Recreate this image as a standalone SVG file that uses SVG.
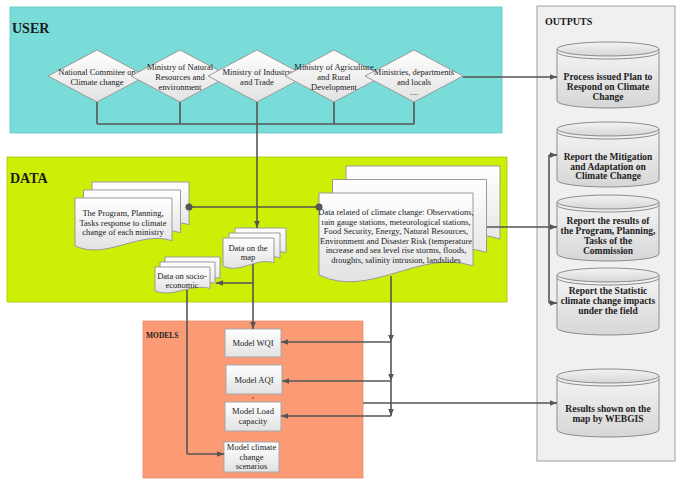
<svg xmlns="http://www.w3.org/2000/svg" width="677" height="481" viewBox="0 0 677 481">
<defs>
<linearGradient id="gw" x1="0" y1="0" x2="0" y2="1"><stop offset="0" stop-color="#ffffff"/><stop offset="1" stop-color="#e2e2e2"/></linearGradient>
<linearGradient id="gc" x1="0" y1="0" x2="0" y2="1"><stop offset="0" stop-color="#f4f4f4"/><stop offset="1" stop-color="#d6d6d6"/></linearGradient>
<marker id="a" viewBox="0 0 10 10" refX="10" refY="5" markerWidth="7" markerHeight="7" orient="auto" markerUnits="userSpaceOnUse"><path d="M0,1 L10,5 L0,9 z" fill="#555"/></marker>
</defs>
<style>
text{font-family:"Liberation Serif","Times New Roman",serif;fill:#222;text-anchor:middle}
.t{font-size:8.5px}
.b{font-size:9.5px;font-weight:bold}
.lbl{font-weight:bold;text-anchor:start;fill:#1b1b1b}
.dia{fill:url(#gw);stroke:#9a9a9a;stroke-width:1}
.doc{fill:url(#gw);stroke:#9a9a9a;stroke-width:1}
.mod{fill:url(#gw);stroke:#a8a8a8;stroke-width:1}
.cyl{fill:url(#gc);stroke:#8c8c8c;stroke-width:1}
.cl{fill:none;stroke:#8c8c8c;stroke-width:1}
.c{fill:none;stroke:#555;stroke-width:1.6}
.ar{marker-end:url(#a)}
</style>

<g id="containers">
<rect x="10" y="7" width="492" height="126" fill="#79dcd8" stroke="#62c4c0" stroke-width="0.8"/>
<rect x="7" y="157" width="500" height="145" fill="#cdef05" stroke="#a9c400" stroke-width="0.8"/>
<rect x="537" y="6" width="138" height="455" fill="#f0f0f0" stroke="#a0a0a0" stroke-width="1"/>
<rect x="143" y="321" width="220" height="157" fill="#fa9b76" stroke="#e88a66" stroke-width="0.8"/>
<text class="lbl" x="12" y="33" font-size="14">USER</text>
<text class="lbl" x="10" y="183" font-size="14">DATA</text>
<text class="lbl" x="545" y="25" font-size="10">OUTPUTS</text>
<text class="lbl" x="146" y="338" font-size="7.5" fill="#3a1a10">MODELS</text>
</g>

<g id="d1"><polygon class="dia" points="48,76 97,50 146,76 97,102"/>
<text class="t" x="97" y="75">National Commitee on</text><text class="t" x="97" y="85">Climate change</text></g>
<g id="d2"><polygon class="dia" points="131,76 180,50 229,76 180,102"/>
<text class="t" x="180" y="70">Ministry of Natural</text><text class="t" x="180" y="80">Resources and</text><text class="t" x="180" y="90">environment</text></g>
<g id="d3"><polygon class="dia" points="208,76 257,50 306,76 257,102"/>
<text class="t" x="257" y="75">Ministry of Industry</text><text class="t" x="257" y="85">and Trade</text></g>
<g id="d4"><polygon class="dia" points="285,76 334,50 383,76 334,102"/>
<text class="t" x="334" y="70">Ministry of Agriculture</text><text class="t" x="334" y="80">and Rural</text><text class="t" x="334" y="90">Development</text></g>
<g id="d5"><polygon class="dia" points="365,76 414,50 463,76 414,102"/>
<text class="t" x="414" y="75">Ministries, departments</text><text class="t" x="414" y="85">and locals</text><text class="t" x="414" y="95">....</text></g>

<g id="doc-program">
<path class="doc" d="M92,182 H189 V224.7 C155.6,214.2 124.1,244.4 92,230 Z"/>
<path class="doc" d="M83.5,190 H180.5 V232.7 C147.1,222.2 115.6,252.4 83.5,238 Z"/>
<path class="doc" d="M75,198 H172 V240.7 C138.6,230.2 107.1,260.4 75,246 Z"/>
<text class="t" x="123" y="216">The Program, Planning,</text>
<text class="t" x="123" y="225.5">Tasks response to climate</text>
<text class="t" x="123" y="235">change of each ministry</text>
</g>

<g id="doc-climate">
<path class="doc" d="M346,166 H500 V239 C447,221 397,272.6 346,248 Z"/>
<path class="doc" d="M332.5,179.5 H486.5 V252.5 C433.5,234.5 383.5,286 332.5,261.5 Z"/>
<path class="doc" d="M319,193 H473 V266 C420,248 370,299.6 319,275 Z"/>
<text class="t" x="396" y="215">Data related of climate change: Observations,</text>
<text class="t" x="396" y="224.5">rain gauge stations, meteorological stations,</text>
<text class="t" x="396" y="234">Food Security, Energy, Natural Resources,</text>
<text class="t" x="396" y="243.5">Environment and Disaster Risk (temperature</text>
<text class="t" x="396" y="253">increase and sea level rise storms, floods,</text>
<text class="t" x="396" y="263">droughts, salinity intrusion, landslides</text>
</g>

<g id="doc-map">
<path class="doc" d="M235,228 H286 V252.9 C268.5,246.8 251.9,264.4 235,256 Z"/>
<path class="doc" d="M229,233 H280 V257.9 C262.5,251.8 245.9,269.4 229,261 Z"/>
<path class="doc" d="M223,238 H274 V262.9 C256.5,256.8 239.9,274.4 223,266 Z"/>
<text class="t" x="248" y="251">Data on the</text>
<text class="t" x="248" y="260">map</text>
</g>

<g id="doc-socio">
<path class="doc" d="M165,257 H220 V278.4 C201.1,273.1 183.2,288.2 165,281 Z"/>
<path class="doc" d="M160,262 H215 V283.4 C196.1,278.1 178.2,293.2 160,286 Z"/>
<path class="doc" d="M155,267 H210 V288.4 C191.1,283.1 173.2,298.2 155,291 Z"/>
<text class="t" x="182" y="279">Data on socio-</text>
<text class="t" x="182" y="288">economic</text>
</g>

<g id="m-wqi"><rect class="mod" x="225" y="329" width="56" height="28"/><text class="t" x="253" y="346">Model WQI</text></g>
<g id="m-aqi"><rect class="mod" x="226" y="365" width="56" height="29"/><text class="t" x="254" y="383">Model AQI</text></g>
<g id="m-load"><rect class="mod" x="225" y="402" width="56" height="29"/><text class="t" x="253" y="414">Model Load</text><text class="t" x="253" y="424">capacity</text></g>
<g id="m-climate"><rect class="mod" x="224" y="442" width="55" height="30"/><text class="t" x="251.5" y="450">Model climate</text><text class="t" x="251.5" y="459.5">change</text><text class="t" x="251.5" y="469">scenarios</text></g>
<path d="M252,398 h2 M253,397 v2" stroke="#a0522d" stroke-width="0.8"/>

<g id="o1"><path class="cyl" d="M557,49 V101 A51,7 0 0 0 659,101 V49 Z"/><ellipse class="cyl" cx="608" cy="49" rx="51" ry="7"/><path class="cl" d="M557,52 A51,7 0 0 0 659,52"/>
<text class="b" x="608" y="80">Process issued Plan to</text><text class="b" x="608" y="90">Respond on Climate</text><text class="b" x="608" y="100">Change</text></g>
<g id="o2"><path class="cyl" d="M557,129 V180 A51,7 0 0 0 659,180 V129 Z"/><ellipse class="cyl" cx="608" cy="129" rx="51" ry="7"/><path class="cl" d="M557,132 A51,7 0 0 0 659,132"/>
<text class="b" x="608" y="160">Report the Mitigation</text><text class="b" x="608" y="169.5">and Adaptation on</text><text class="b" x="608" y="179">Climate Change</text></g>
<g id="o3"><path class="cyl" d="M557,202 V254 A51,7 0 0 0 659,254 V202 Z"/><ellipse class="cyl" cx="608" cy="202" rx="51" ry="7"/><path class="cl" d="M557,205 A51,7 0 0 0 659,205"/>
<text class="b" x="608" y="224">Report the results of</text><text class="b" x="608" y="234">the Program, Planning,</text><text class="b" x="608" y="244">Tasks of the</text><text class="b" x="608" y="254">Commission</text></g>
<g id="o4"><path class="cyl" d="M557,275 V328 A51,7 0 0 0 659,328 V275 Z"/><ellipse class="cyl" cx="608" cy="275" rx="51" ry="7"/><path class="cl" d="M557,278 A51,7 0 0 0 659,278"/>
<text class="b" x="608" y="294">Report the Statistic</text><text class="b" x="608" y="304">climate change impacts</text><text class="b" x="608" y="314">under the field</text></g>
<g id="o5"><path class="cyl" d="M557,376 V430 A51,7 0 0 0 659,430 V376 Z"/><ellipse class="cyl" cx="608" cy="376" rx="51" ry="7"/><path class="cl" d="M557,379 A51,7 0 0 0 659,379"/>
<text class="b" x="608" y="412">Results shown on the</text><text class="b" x="608" y="422">map by WEBGIS</text></g>

<g id="connectors">
<path class="c" d="M97,102 V124 M180,102 V124 M334,102 V124 M414,102 V124 M97,124 H414"/>
<path class="c ar" d="M257,102 V228"/>
<path class="c ar" d="M463,77 H557"/>
<path class="c" d="M189,207 H319"/>
<circle cx="189" cy="207" r="3.5" fill="#555"/>
<circle cx="319" cy="207" r="3.5" fill="#555"/>
<path class="c ar" d="M487,227 H557"/>
<path class="c" d="M549,155 V303"/>
<path class="c ar" d="M549,155 H557"/>
<path class="c ar" d="M549,303 H557"/>
<path class="c ar" d="M253,264 V329"/>
<path class="c ar" d="M253,283 H216"/>
<path class="c" d="M187,290 V454"/>
<path class="c ar" d="M187,454 H224"/>
<path class="c ar" d="M391,276 V342"/>
<path class="c ar" d="M391,342 V381"/>
<path class="c ar" d="M391,381 V416"/>
<path class="c ar" d="M391,342 H281"/>
<path class="c ar" d="M391,381 H282"/>
<path class="c ar" d="M391,416 H281"/>
<path class="c ar" d="M363,403 H557"/>
</g>
</svg>
